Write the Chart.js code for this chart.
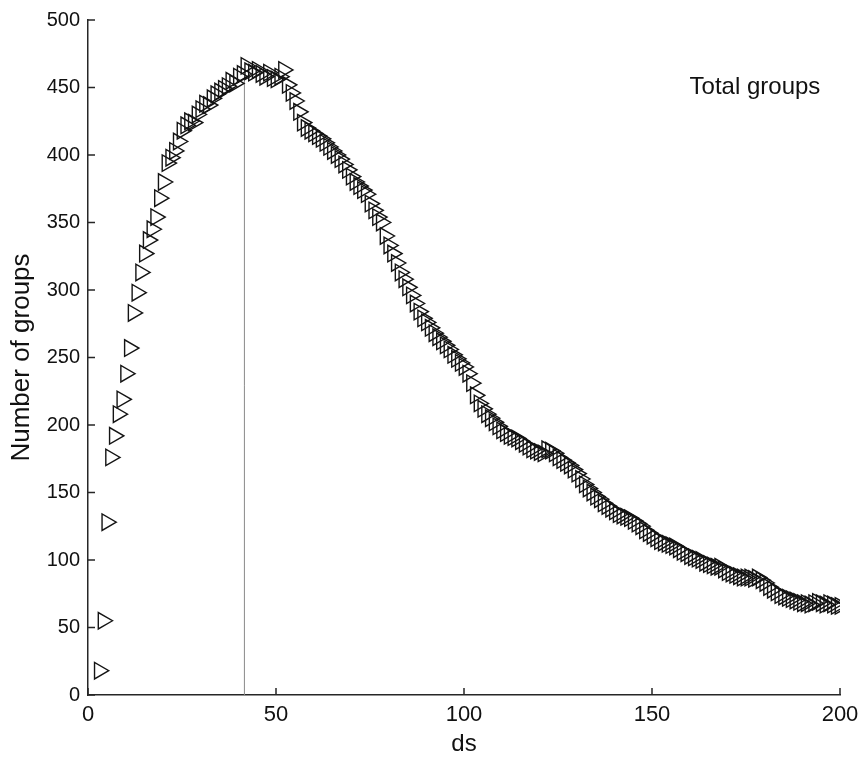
<!DOCTYPE html>
<html lang="en">
<head>
    <meta charset="UTF-8">
    <title>Total groups</title>
    <script src="https://cdn.jsdelivr.net/npm/chart.js@4.4.1/dist/chart.umd.min.js"></script>
    <style>
        html, body { margin: 0; padding: 0; background: #fff; }
        .chart-container { position: relative; width: 866px; height: 767px; }
    </style>
</head>
<body>
    <div class="chart-container">
        <canvas id="groupsChart"></canvas>
    </div>

    <script>
        // ds values (one marker per integer step)
        const dsStart = 3;
        const groupCounts = [
            18, 55, 128, 176, 192, 208, 219, 238, 257, 283,          // 3-12
            298, 313, 327, 337, 345, 354, 368, 380, 394, 398,        // 13-22
            403, 410, 418, 422, 425, 424, 430, 434, 438, 437,        // 23-32
            442, 445, 447, 449, 451, 455, 453, 458, 460, 466,        // 33-42
            462, 461, 463, 460, 458, 461, 457, 456, 458, 463,        // 43-52
            452, 446, 440, 432, 424, 420, 418, 416, 414, 412,        // 53-62
            409, 406, 403, 400, 397, 393, 389, 384, 380, 377,        // 63-72
            374, 371, 364, 359, 354, 350, 340, 333, 327, 320,        // 73-82
            313, 308, 302, 296, 290, 284, 279, 276, 272, 268,        // 83-92
            265, 262, 259, 256, 252, 249, 246, 243, 238, 231,        // 93-102
            222, 216, 212, 208, 205, 202, 199, 196, 194, 192,        // 103-112
            191, 190, 188, 186, 184, 182, 181, 180, 179, 182,        // 113-122
            181, 179, 176, 174, 172, 170, 167, 164, 160, 156,        // 123-132
            153, 150, 147, 145, 142, 140, 138, 136, 134, 133,        // 133-142
            132, 131, 129, 127, 125, 122, 120, 118, 116, 114,        // 143-152
            113, 112, 111, 110, 108, 106, 105, 103, 102, 101,        // 153-162
            100, 98, 97, 96, 95, 95, 93, 91, 90, 89,                 // 163-172
            88, 87, 87, 87, 86, 87, 85, 83, 80, 78,                  // 173-182
            76, 74, 73, 72, 71, 70, 69, 68, 68, 67,                  // 183-192
            68, 69, 68, 67, 68, 67, 66, 66                           // 193-200
        ];
        const peakDs = 41.6;
        const peakLineTop = 458;
        const xTicks = [0, 50, 100, 150, 200];
        const yTicks = [0, 50, 100, 150, 200, 250, 300, 350, 400, 450, 500];
        const noteText = 'Total groups';
        const notePos = [160, 450];

        const pontos = groupCounts.map((v, i) => ({ x: dsStart + i, y: v }));

        // MATLAB-like ticks pointing into the plot, plus the text note
        const ticksInternos = {
            id: 'ticksInternos',
            afterDraw(chart) {
                const { ctx, chartArea, scales: { x, y } } = chart;
                ctx.save();
                ctx.strokeStyle = '#262626';
                ctx.lineWidth = 1.5;
                ctx.beginPath();
                xTicks.forEach(t => {
                    const px = x.getPixelForValue(t);
                    ctx.moveTo(px, chartArea.bottom);
                    ctx.lineTo(px, chartArea.bottom - 7);
                });
                yTicks.forEach(t => {
                    const py = y.getPixelForValue(t);
                    ctx.moveTo(chartArea.left, py);
                    ctx.lineTo(chartArea.left + 7, py);
                });
                ctx.stroke();

                ctx.fillStyle = '#111';
                ctx.font = '24px Arial, "Liberation Sans"';
                ctx.textBaseline = 'middle';
                ctx.fillText(noteText, x.getPixelForValue(notePos[0]), y.getPixelForValue(notePos[1]));
                ctx.restore();
            }
        };

        const fonte = 'Arial, "Liberation Sans", sans-serif';

        new Chart(document.getElementById('groupsChart'), {
            type: 'scatter',
            data: {
                datasets: [
                    {
                        label: 'Total groups',
                        data: pontos,
                        pointStyle: 'triangle',
                        rotation: 90,
                        pointRadius: 9.5,
                        pointHoverRadius: 9.5,
                        pointBorderWidth: 1.4,
                        borderColor: '#141414',
                        backgroundColor: 'rgba(0,0,0,0)',
                        showLine: false,
                        order: 0
                    },
                    {
                        type: 'line',
                        label: 'peak',
                        data: [{ x: peakDs, y: 0 }, { x: peakDs, y: peakLineTop }],
                        borderColor: '#8a8a8a',
                        borderWidth: 1,
                        pointRadius: 0,
                        order: 1
                    }
                ]
            },
            options: {
                responsive: true,
                maintainAspectRatio: false,
                animation: false,
                layout: { padding: { top: 20, right: 26, left: 0, bottom: 0 } },
                plugins: {
                    legend: { display: false },
                    tooltip: { enabled: false }
                },
                scales: {
                    x: {
                        type: 'linear',
                        min: 0,
                        max: 200,
                        afterFit: s => { s.height = 72; },
                        afterBuildTicks: s => { s.ticks = xTicks.map(v => ({ value: v })); },
                        grid: { display: false, drawTicks: false },
                        border: { display: true, color: '#262626', width: 1.5 },
                        ticks: {
                            padding: 7,
                            color: '#111',
                            font: { family: fonte, size: 22 }
                        },
                        title: {
                            display: true,
                            text: 'ds',
                            color: '#111',
                            font: { family: fonte, size: 24 },
                            padding: { top: 0, bottom: 8 }
                        }
                    },
                    y: {
                        min: 0,
                        max: 500,
                        afterFit: s => { s.width = 88; },
                        afterBuildTicks: s => { s.ticks = yTicks.map(v => ({ value: v })); },
                        grid: { display: false, drawTicks: false },
                        border: { display: true, color: '#262626', width: 1.5 },
                        ticks: {
                            padding: 8,
                            color: '#111',
                            font: { family: fonte, size: 20 }
                        },
                        title: {
                            display: true,
                            text: 'Number of groups',
                            color: '#111',
                            font: { family: fonte, size: 26 },
                            padding: { top: 6, bottom: 0 }
                        }
                    }
                }
            },
            plugins: [ticksInternos]
        });
    </script>
</body>
</html>
